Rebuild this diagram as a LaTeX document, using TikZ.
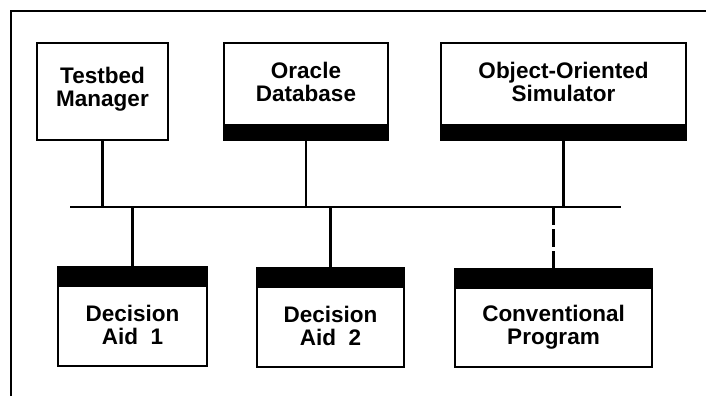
\documentclass[tikz,border=0pt]{standalone}
\usepackage{fontspec}
\setmainfont{Liberation Sans}
\begin{document}
\begin{tikzpicture}[x=1pt,y=-1pt,
  frame/.style={line width=2.6pt},
  box/.style={draw, line width=2.6pt, inner sep=0pt},
  bar/.style={fill=black},
  lbl/.style={font=\fontsize{22.5}{23.5}\selectfont\bfseries, align=center, inner sep=0pt},
  wire/.style={line width=2.2pt},
  remote/.style={wire, dash pattern=on 18pt off 4pt}]
\useasboundingbox (0,0) rectangle (706,396);

% outer frame (runs off the page at right and bottom)
\draw[frame] (11,396) -- (11,11) -- (706,11);

% upper row: name plate on top, black strip at the bottom
\node[box, minimum width=131, minimum height=97] (tm) at (102.5,91.5) {};
\node[lbl] (tmt) at (102.5,89) {Testbed\\Manager};

\node[box, minimum width=164, minimum height=97] (od) at (306,91.5) {};
\fill[bar] ([yshift=17]od.south west) rectangle (od.south east);
\node[lbl] (odt) at (306,82) {Oracle\\Database};

\node[box, minimum width=245, minimum height=97] (oos) at (563.5,91.5) {};
\fill[bar] ([yshift=17]oos.south west) rectangle (oos.south east);
\node[lbl] (oost) at (563.5,82) {Object-Oriented\\Simulator};

% lower row: black strip at the top
\node[box, minimum width=149, minimum height=99] (da1) at (132.5,316.5) {};
\fill[bar] (da1.north west) rectangle ([yshift=-21]da1.north east);
\node[lbl] (da1t) at (132.5,325) {Decision\\Aid\ \ 1};

\node[box, minimum width=147, minimum height=99] (da2) at (330.5,317.5) {};
\fill[bar] (da2.north west) rectangle ([yshift=-21]da2.north east);
\node[lbl] (da2t) at (330.5,326) {Decision\\Aid\ \ 2};

\node[box, minimum width=197, minimum height=98] (cp) at (553.5,318) {};
\fill[bar] (cp.north west) rectangle ([yshift=-21]cp.north east);
\node[lbl] (cpt) at (553.5,327) {Conventional\\Program};

% bus
\coordinate (busL) at (70,207);
\coordinate (busR) at (621,207);
\draw[wire] (busL) -- (busR);

% connectors
\draw[wire] (tm.south) -- (tm.south |- busL);
\draw[wire] (od.south) -- (od.south |- busL);
\draw[wire] (oos.south) -- (oos.south |- busL);
\draw[wire] (da1.north) -- (da1.north |- busL);
\draw[wire] (da2.north) -- (da2.north |- busL);
\draw[remote] (cp.north |- busL) -- (cp.north);
\end{tikzpicture}
\end{document}
